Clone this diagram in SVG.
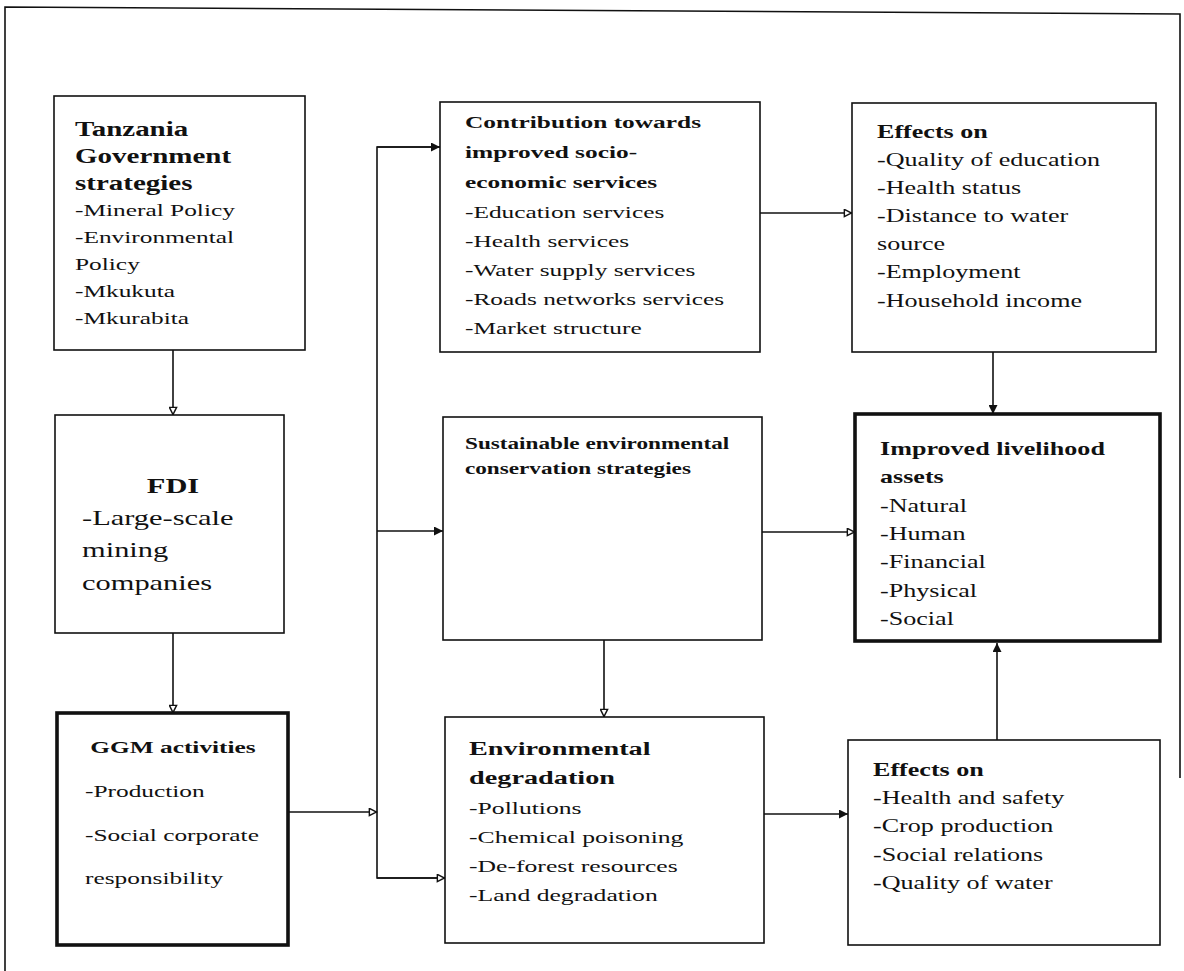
<svg xmlns="http://www.w3.org/2000/svg" width="1184" height="971" viewBox="0 0 1184 971">
<style>
.bg{fill:#fff}
.box{fill:#fff;stroke:#111;stroke-width:1.6}
.thick{stroke-width:3.6}
.frame{fill:none;stroke:#111;stroke-width:1.6}
.t{font-family:"Liberation Serif","Times New Roman",serif;fill:#111}
.b{font-weight:bold}
.c{stroke:#111;stroke-width:1.6;fill:none}
</style>
<defs>
<marker id="af" viewBox="0 0 10 10" refX="10" refY="5" markerWidth="11" markerHeight="9" markerUnits="userSpaceOnUse" orient="auto">
<path d="M0,0 L10,5 L0,10 Z" fill="#111"/>
</marker>
<marker id="ao" viewBox="0 0 10 10" refX="9.5" refY="5" markerWidth="10" markerHeight="9" markerUnits="userSpaceOnUse" orient="auto">
<path d="M1,1 L9,5 L1,9 Z" fill="#fff" stroke="#111" stroke-width="1.6"/>
</marker>
</defs>
<rect class="bg" x="0" y="0" width="1184" height="971"/>
<path class="frame" d="M5,971 L5,7 L1180,14 L1180,778"/>

<g id="connectors">
<line class="c" x1="173" y1="350" x2="173" y2="415" marker-end="url(#ao)"/>
<line class="c" x1="173" y1="632" x2="173" y2="713" marker-end="url(#ao)"/>
<line class="c" x1="288" y1="812" x2="377" y2="812" marker-end="url(#ao)"/>
<path class="c" d="M440,147 L377,147 L377,878 L445,878"/>
<line class="c" x1="377" y1="147" x2="440" y2="147" marker-end="url(#af)"/>
<line class="c" x1="377" y1="531" x2="443" y2="531" marker-end="url(#af)"/>
<line class="c" x1="377" y1="878" x2="445" y2="878" marker-end="url(#ao)"/>
<line class="c" x1="760" y1="213" x2="852" y2="213" marker-end="url(#ao)"/>
<line class="c" x1="604" y1="640" x2="604" y2="717" marker-end="url(#ao)"/>
<line class="c" x1="762" y1="532" x2="855" y2="532" marker-end="url(#ao)"/>
<line class="c" x1="993" y1="352" x2="993" y2="414" marker-end="url(#af)"/>
<line class="c" x1="764" y1="814" x2="848" y2="814" marker-end="url(#af)"/>
<line class="c" x1="997" y1="740" x2="997" y2="643" marker-end="url(#af)"/>
</g>

<g id="tanzania">
<rect class="box" x="54" y="96" width="251" height="254"/>
<text class="t" transform="translate(75 0) scale(1.45 1)">
<tspan class="b" font-size="20" x="0" y="136">Tanzania</tspan>
<tspan class="b" font-size="20" x="0" y="163">Government</tspan>
<tspan class="b" font-size="20" x="0" y="190">strategies</tspan>
<tspan font-size="17.5" x="0" y="216">-Mineral Policy</tspan>
<tspan font-size="17.5" x="0" y="243">-Environmental</tspan>
<tspan font-size="17.5" x="0" y="270">Policy</tspan>
<tspan font-size="17.5" x="0" y="297">-Mkukuta</tspan>
<tspan font-size="17.5" x="0" y="324">-Mkurabita</tspan>
</text>
</g>

<g id="fdi">
<rect class="box" x="55" y="415" width="229" height="218"/>
<text class="t b" font-size="21" text-anchor="middle" transform="translate(173 0) scale(1.45 1)"><tspan x="0" y="493">FDI</tspan></text>
<text class="t" font-size="21" transform="translate(82 0) scale(1.45 1)">
<tspan x="0" y="525">-Large-scale</tspan>
<tspan x="0" y="557">mining</tspan>
<tspan x="0" y="590">companies</tspan>
</text>
</g>

<g id="ggm">
<rect class="box thick" x="57" y="713" width="231" height="232"/>
<text class="t b" font-size="17.5" text-anchor="middle" transform="translate(173 0) scale(1.45 1)"><tspan x="0" y="753">GGM activities</tspan></text>
<text class="t" font-size="17.5" transform="translate(85 0) scale(1.45 1)">
<tspan x="0" y="797">-Production</tspan>
<tspan x="0" y="841">-Social corporate</tspan>
<tspan x="0" y="884">responsibility</tspan>
</text>
</g>

<g id="contribution">
<rect class="box" x="440" y="102" width="320" height="250"/>
<text class="t" font-size="17.5" transform="translate(465 0) scale(1.45 1)">
<tspan class="b" x="0" y="128">Contribution towards</tspan>
<tspan class="b" x="0" y="158">improved socio-</tspan>
<tspan class="b" x="0" y="188">economic services</tspan>
<tspan x="0" y="218">-Education services</tspan>
<tspan x="0" y="247">-Health services</tspan>
<tspan x="0" y="276">-Water supply services</tspan>
<tspan x="0" y="305">-Roads networks services</tspan>
<tspan x="0" y="334">-Market structure</tspan>
</text>
</g>

<g id="sustainable">
<rect class="box" x="443" y="417" width="319" height="223"/>
<text class="t b" font-size="16" transform="translate(465 0) scale(1.45 1)">
<tspan x="0" y="449">Sustainable environmental</tspan>
<tspan x="0" y="474">conservation strategies</tspan>
</text>
</g>

<g id="environmental">
<rect class="box" x="445" y="717" width="319" height="226"/>
<text class="t" transform="translate(469 0) scale(1.45 1)">
<tspan class="b" font-size="19.5" x="0" y="755">Environmental</tspan>
<tspan class="b" font-size="19.5" x="0" y="784">degradation</tspan>
<tspan font-size="17.7" x="0" y="814">-Pollutions</tspan>
<tspan font-size="17.7" x="0" y="843">-Chemical poisoning</tspan>
<tspan font-size="17.7" x="0" y="872">-De-forest resources</tspan>
<tspan font-size="17.7" x="0" y="901">-Land degradation</tspan>
</text>
</g>

<g id="effects-top">
<rect class="box" x="852" y="103" width="304" height="249"/>
<text class="t" font-size="18" transform="translate(877 0) scale(1.45 1)">
<tspan class="b" x="0" y="138">Effects on</tspan>
<tspan x="0" y="166">-Quality of education</tspan>
<tspan x="0" y="194">-Health status</tspan>
<tspan x="0" y="222">-Distance to water</tspan>
<tspan x="0" y="250">source</tspan>
<tspan x="0" y="278">-Employment</tspan>
<tspan x="0" y="307">-Household income</tspan>
</text>
</g>

<g id="livelihood">
<rect class="box thick" x="855" y="414" width="305" height="227"/>
<text class="t" font-size="18" transform="translate(880 0) scale(1.45 1)">
<tspan class="b" x="0" y="455">Improved livelihood</tspan>
<tspan class="b" x="0" y="483">assets</tspan>
<tspan x="0" y="512">-Natural</tspan>
<tspan x="0" y="540">-Human</tspan>
<tspan x="0" y="568">-Financial</tspan>
<tspan x="0" y="597">-Physical</tspan>
<tspan x="0" y="625">-Social</tspan>
</text>
</g>

<g id="effects-bottom">
<rect class="box" x="848" y="740" width="312" height="205"/>
<text class="t" font-size="18" transform="translate(873 0) scale(1.45 1)">
<tspan class="b" x="0" y="776">Effects on</tspan>
<tspan x="0" y="804">-Health and safety</tspan>
<tspan x="0" y="832">-Crop production</tspan>
<tspan x="0" y="861">-Social relations</tspan>
<tspan x="0" y="889">-Quality of water</tspan>
</text>
</g>
</svg>
